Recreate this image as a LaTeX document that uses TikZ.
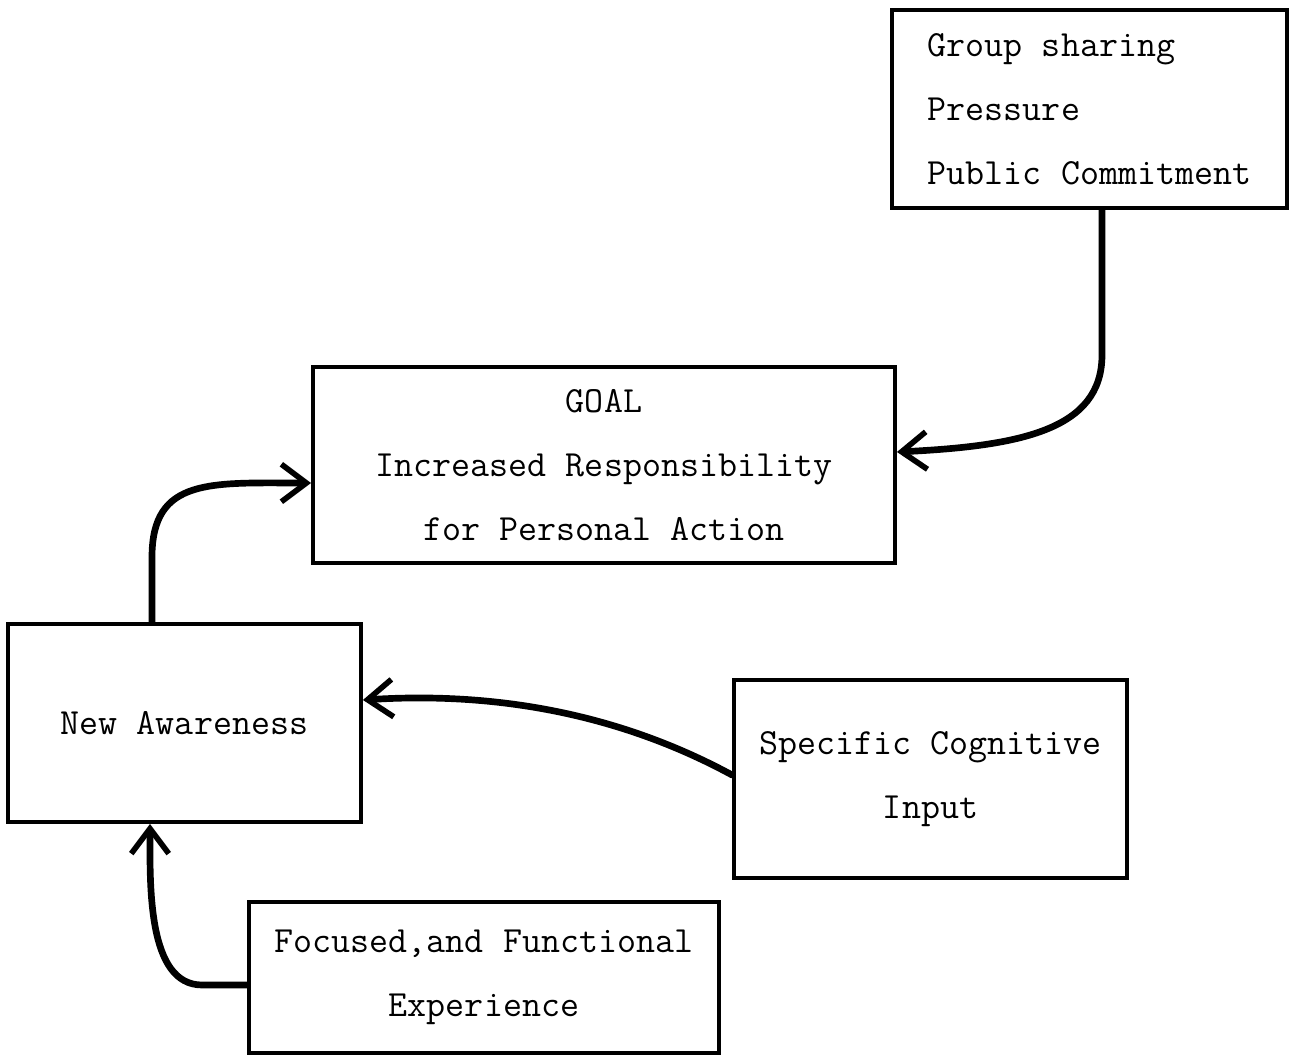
\documentclass[tikz,border=0pt]{standalone}
\usepackage{amsmath}
\usepackage{xcolor}
\usepackage{tikz}
\usetikzlibrary{arrows.meta}

\tikzset{
  blocco/.style={draw, line width=2.2pt, minimum height=3.96cm, inner sep=0pt,
    align=center, font=\fontsize{21}{36.4}\selectfont\ttfamily},
  freccia/.style={line width=3.8pt, line cap=round,
    -{Straight Barb[length=0.5cm,width=0.75cm,line width=3.2pt]}}
}

\begin{document}
\begin{tikzpicture}
                \useasboundingbox (0,0) rectangle (25.86,21.12);

                % Blocchi
                \node[blocco, minimum width=7.9cm, align=left] (share) at (21.79,18.94)
                  {Group sharing\\Pressure\\Public Commitment};
                \node[blocco, minimum width=11.64cm, minimum height=3.92cm] (goal) at (12.08,11.82)
                  {GOAL\\Increased Responsibility\\for Personal Action};
                \node[blocco, minimum width=7.06cm] (aware) at (3.69,6.66) {New Awareness};
                \node[blocco, minimum width=7.86cm] (input) at (18.61,5.54)
                  {Specific Cognitive\\Input};
                \node[blocco, minimum width=9.4cm, minimum height=3.02cm] (exper) at (9.68,1.57)
                  {Focused,and Functional\\Experience};

                % Frecce
                \draw[freccia] ([xshift=0.25cm]share.south) -- ++(0,-2.9)
                  .. controls +(0,-1.5) and (20.4,12.2) .. ([yshift=0.26cm]goal.east);
                \draw[freccia] ([xshift=-0.65cm]aware.north) -- ++(0,1.3)
                  .. controls +(0,1.6) and +(-2,0) .. ([yshift=-0.36cm]goal.west);
                \draw[freccia] ([yshift=0.08cm]input.west)
                  .. controls (12.8,6.62) and (10.4,7.32) .. ([yshift=0.46cm]aware.east);
                \draw[freccia] ([yshift=-0.15cm]exper.west) -- ++(-0.9,0)
                  .. controls +(-1.1,0) and +(0,-1.2) .. ([xshift=-0.69cm]aware.south);

        \end{tikzpicture}
\end{document}
